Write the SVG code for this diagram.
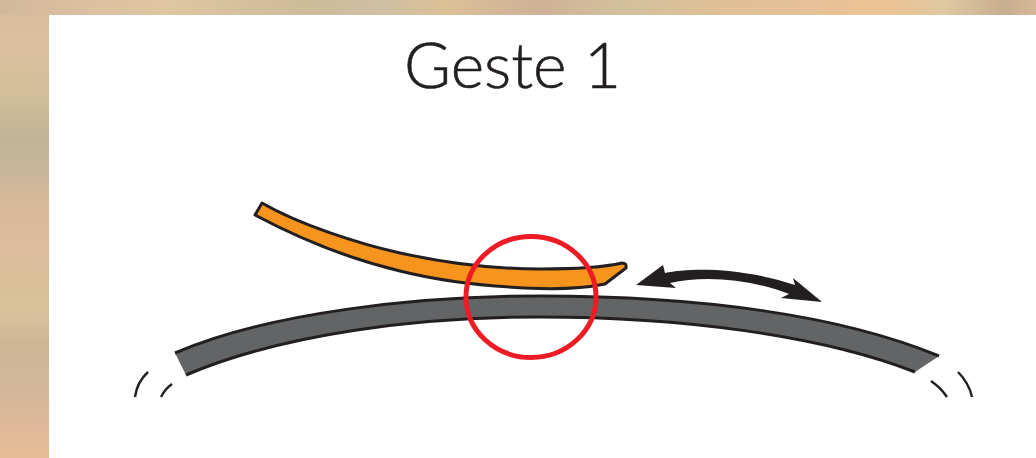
<svg xmlns="http://www.w3.org/2000/svg" width="1036" height="458" viewBox="0 0 1036 458">
<style>
.ink{fill:none;stroke:#231f20;stroke-width:3}
.dash{fill:none;stroke:#231f20;stroke-width:2.4}
</style>
<defs>
<linearGradient id="left" x1="0" y1="0" x2="0" y2="1">
<stop offset="0" stop-color="#d6bd9c"/><stop offset=".1" stop-color="#dcbf9e"/><stop offset=".2" stop-color="#d2bf9a"/><stop offset=".3" stop-color="#c2b498"/><stop offset=".38" stop-color="#c8b69c"/><stop offset=".45" stop-color="#d8b998"/><stop offset=".53" stop-color="#dcbb9e"/><stop offset=".62" stop-color="#d8bf96"/><stop offset=".68" stop-color="#d9c29a"/><stop offset=".75" stop-color="#cfb596"/><stop offset=".85" stop-color="#d2b79c"/><stop offset=".93" stop-color="#dfb998"/><stop offset="1" stop-color="#e6bc94"/>
</linearGradient>
<linearGradient id="top" x1="0" y1="0" x2="1" y2="0">
<stop offset="0" stop-color="#d2b89c"/><stop offset=".08" stop-color="#dcbfa0"/><stop offset=".16" stop-color="#dfc6a0"/><stop offset=".3" stop-color="#cdbb9a"/><stop offset=".37" stop-color="#cfbfa4"/><stop offset=".43" stop-color="#dcc096"/><stop offset=".52" stop-color="#cfb198"/><stop offset=".6" stop-color="#d2c09c"/><stop offset=".7" stop-color="#e0c096"/><stop offset=".78" stop-color="#e6c098"/><stop offset=".85" stop-color="#ecc394"/><stop offset=".91" stop-color="#e0c8a0"/><stop offset=".97" stop-color="#c8ad90"/><stop offset="1" stop-color="#d6b898"/>
</linearGradient>
</defs>
<g id="background">
<rect x="0" y="0" width="49" height="458" fill="url(#left)"/>
<rect x="0" y="0" width="1036" height="15" fill="url(#top)"/>
<rect x="49" y="15" width="987" height="443" fill="#fff"/>
</g>
<text id="title" x="404" y="88" font-family="Lato, 'Liberation Sans', sans-serif" font-size="64" font-weight="300" fill="#231f20" stroke="#231f20" stroke-width="0.6" textLength="217" lengthAdjust="spacing">Geste 1</text>
<g id="band">
<path d="M175,353 C270,312 420,296 540,296 C700,296 840,315 939,356 L915,372 C820,335 680,317 540,317 C420,317 285,333 186,375 Z" fill="#636466"/>
<path class="ink" d="M175,353 C270,312 420,296 540,296 C700,296 840,315 939,356"/>
<path class="ink" d="M186,375 C285,333 420,317 540,317 C680,317 820,335 915,372"/>
</g>
<g id="dashes">
<path class="dash" d="M148,372 Q137,382 135,397"/>
<path class="dash" d="M172,384 Q165,389 161,397"/>
<path class="dash" d="M931,381 Q941,388 947,397"/>
<path class="dash" d="M958,372 Q969,383 972,397"/>
</g>
<g id="blade">
<path d="M262,203 C300,225 360,244 400,253 C450,264 500,269 540,269 C570,269 600,268 622,263 Q627,263 626,268 L605,284 C585,288 560,289 540,288.5 C490,287 440,281 400,271 C350,259 300,239 255,215 Z" fill="#f7941d" stroke="#231f20" stroke-width="3" stroke-linejoin="round"/>
</g>
<g id="circle">
<ellipse cx="531" cy="297" rx="65" ry="60.5" fill="none" stroke="#ed1c24" stroke-width="5"/>
</g>
<g id="connectors">
<path d="M636,285 L663,265 L665,273 C690,268 740,267 795,285 L793,278 L822,302 L781,298 L789,294 C750,279 705,275 670,283 L676,288 Z" fill="#231f20"/>
</g>
</svg>
